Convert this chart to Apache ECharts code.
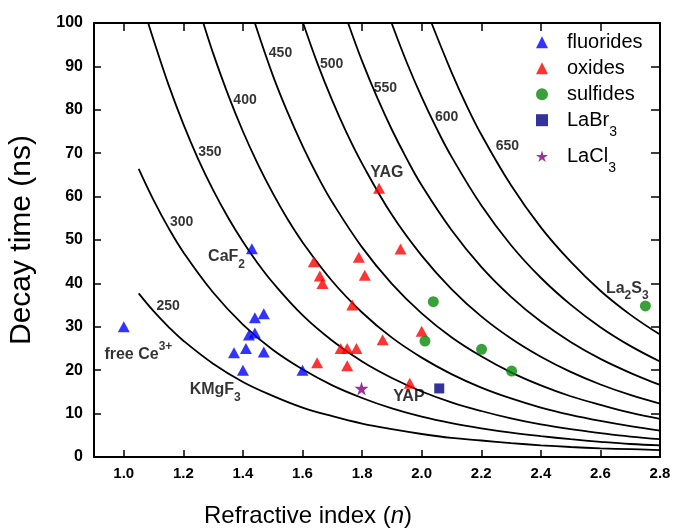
<!DOCTYPE html>
<html><head><meta charset="utf-8">
<script src="https://cdn.jsdelivr.net/npm/echarts/dist/echarts.min.js"></script>
<style>html,body{margin:0;padding:0;background:#fff}#c{width:675px;height:529px}</style>
</head><body><div id="c"></div>
<script>
// ---- data ----
const wavelengths = ['250','300','350','400','450','500','550','600','650'];
const curve250 = [[1.05,37.7],[1.1,33.6],[1.15,30.0],[1.2,26.8],[1.3,21.5],[1.4,17.3],[1.5,14.1],[1.6,11.4],[1.7,9.4],[1.8,7.7],[1.9,6.4],[2.0,5.3],[2.1,4.4],[2.2,3.8],[2.3,3.2],[2.4,2.7],[2.5,2.3],[2.6,2.0],[2.7,1.8],[2.8,1.6]];
const curve300 = [[1.05,66.4],[1.1,59.2],[1.15,52.8],[1.2,47.2],[1.3,37.9],[1.4,30.5],[1.5,24.7],[1.6,20.2],[1.7,16.5],[1.8,13.6],[1.9,11.2],[2.0,9.3],[2.1,7.8],[2.2,6.6],[2.3,5.6],[2.4,4.8],[2.5,4.1],[2.6,3.5],[2.7,3.0],[2.8,2.7]];
const curve350 = [[1.082,100],[1.1,96.1],[1.15,85.8],[1.2,76.7],[1.25,68.6],[1.3,61.5],[1.35,55.2],[1.4,49.6],[1.45,44.6],[1.5,40.2],[1.6,32.7],[1.7,26.8],[1.8,22.0],[1.9,18.2],[2.0,15.1],[2.1,12.6],[2.2,10.6],[2.3,8.9],[2.4,7.5],[2.5,6.4],[2.6,5.5],[2.7,4.7],[2.8,4.1]];
const curve400 = [[1.267,100],[1.3,93.0],[1.35,83.5],[1.4,75.0],[1.45,67.5],[1.5,60.8],[1.55,54.8],[1.6,49.5],[1.7,40.5],[1.8,33.3],[1.9,27.5],[2.0,22.9],[2.1,19.1],[2.2,16.0],[2.3,13.5],[2.4,11.4],[2.5,9.7],[2.6,8.3],[2.7,7.1],[2.8,6.1]];
const curve450 = [[1.44,100],[1.5,88.0],[1.55,79.4],[1.6,71.7],[1.65,64.8],[1.7,58.7],[1.8,48.3],[1.9,39.9],[2.0,33.1],[2.1,27.6],[2.2,23.2],[2.3,19.5],[2.4,16.5],[2.5,14.0],[2.6,12.0],[2.7,10.2],[2.8,8.8]];
const curve500 = [[1.602,100],[1.65,90.7],[1.7,82.1],[1.75,74.4],[1.8,67.6],[1.9,55.8],[2.0,46.4],[2.1,38.7],[2.2,32.4],[2.3,27.3],[2.4,23.1],[2.5,19.6],[2.6,16.7],[2.7,14.3],[2.8,12.3]];
const curve550 = [[1.753,100],[1.8,91.2],[1.85,82.9],[1.9,75.4],[1.95,68.7],[2.0,62.6],[2.1,52.3],[2.2,43.8],[2.3,36.9],[2.4,31.2],[2.5,26.5],[2.6,22.6],[2.7,19.4],[2.8,16.6]];
const curve600 = [[1.899,100],[1.95,90.9],[2.0,82.9],[2.05,75.7],[2.1,69.2],[2.2,58.0],[2.3,48.8],[2.4,41.3],[2.5,35.1],[2.6,29.9],[2.7,25.6],[2.8,22.0]];
const curve650 = [[2.033,100],[2.1,88.7],[2.15,81.1],[2.2,74.3],[2.3,62.6],[2.4,52.9],[2.5,45.0],[2.6,38.3],[2.7,32.8],[2.8,28.2]];
const curves = [curve250,curve300,curve350,curve400,curve450,curve500,curve550,curve600,curve650];

const fluorides = [[1.00,30.0],[1.43,48.0],[1.44,32.1],[1.47,33.0],[1.42,28.1],[1.44,28.6],[1.37,24.0],[1.41,25.0],[1.47,24.2],[1.40,20.0],[1.60,20.0]];
const oxides = [[1.857,61.9],[1.929,47.9],[1.789,46.0],[1.638,45.0],[1.809,41.9],[1.658,41.7],[1.667,40.0],[1.767,35.0],[2.0,29.0],[1.869,27.0],[1.728,25.0],[1.75,25.0],[1.781,25.0],[1.649,21.7],[1.75,21.0],[1.96,17.0]];
const sulfides = [[2.039,35.8],[2.011,26.7],[2.201,24.8],[2.302,19.8],[2.751,34.8]];
const labr3 = [[2.059,15.8]];
const lacl3 = [[1.798,15.8]];

const xTickFormat = 1;      // decimals on x ticks
const curveLabelAnchors = [[1.149,34.8],[1.194,54.2],[1.289,70.3],[1.407,82.3],[1.526,93.0],[1.698,90.6],[1.878,84.9],[2.084,78.3],[2.288,71.7]];
const annotationTexts = ['{m|YAG}','{m|CaF}{sb|2}','{mp|free Ce}{sp|3+}','{m|KMgF}{sb|3}','{m|YAP}','{m|La}{sb|2}{m|S}{sb|3}'];
const annotationAnchors = [[1.883,65.5],[1.345,46.2],[1.049,25.0],[1.307,15.5],[1.957,13.9],[2.690,38.9]];

// ---- chart ----
const FONT = '"Liberation Sans", Arial, sans-serif';
const BLACK = '#000';
const starPath = 'path://M50,0 L61,35 L98,35 L68,57 L79,91 L50,70 L21,91 L32,57 L2,35 L39,35 Z';

const curveSeries = curves.map((c, i) => ({
  type: 'line', name: 'c' + wavelengths[i], data: c, smooth: 0.4,
  symbol: 'none', silent: true, z: 1, lineStyle: {color: BLACK, width: 1.8}
}));

const annRich = {
  m: {fontSize: 16, fontWeight: 'bold', lineHeight: 16, verticalAlign: 'top', fontFamily: FONT, color: BLACK},
  sb: {fontSize: 12, fontWeight: 'bold', lineHeight: 12, padding: [10,0,0,0], verticalAlign: 'top', fontFamily: FONT, color: BLACK},
  mp: {fontSize: 16, fontWeight: 'bold', lineHeight: 16, padding: [6,0,0,0], verticalAlign: 'top', fontFamily: FONT, color: BLACK},
  sp: {fontSize: 12, fontWeight: 'bold', lineHeight: 12, verticalAlign: 'top', fontFamily: FONT, color: BLACK}
};

const legendRich = {
  t: {fontSize: 20, lineHeight: 20, padding: [9,0,9,0], verticalAlign: 'middle', fontFamily: FONT, color: BLACK},
  s: {fontSize: 14, lineHeight: 14, padding: [24,0,0,0], verticalAlign: 'middle', fontFamily: FONT, color: BLACK}
};
const legendFmt = name => {
  const m = name.match(/^(.*?)(\d)$/);
  return m ? '{t|' + m[1] + '}{s|' + m[2] + '}' : '{t|' + name + '}';
};
const legendBase = {
  orient: 'vertical', left: 536, padding: 0, itemWidth: 12, itemHeight: 12, itemGap: -12,
  formatter: legendFmt, selectedMode: false,
  textStyle: {color: BLACK, fontFamily: FONT, fontSize: 20, padding: [0,0,0,14], rich: legendRich}
};

const axisLineStyle = {color: BLACK, width: 2};
const tickStyle = {color: BLACK, width: 1.5};

const option = {
  animation: false,
  backgroundColor: '#fff',
  grid: {left: 94, right: 15, top: 23, bottom: 72, containLabel: false, outerBoundsMode: 'none'},
  legend: [
    Object.assign({}, legendBase, {top: 23.2, data: ['fluorides','oxides','sulfides','LaBr3']}),
    Object.assign({}, legendBase, {top: 137.2, data: ['LaCl3']})
  ],
  xAxis: [
    {type: 'value', min: 0.9, max: 2.8, splitNumber: 10, position: 'bottom',
     axisLine: {onZero: false, lineStyle: axisLineStyle},
     axisTick: {inside: true, length: 7, lineStyle: tickStyle},
     axisLabel: {showMinLabel: false, formatter: v => v.toFixed(xTickFormat), color: BLACK, fontSize: 15, fontWeight: 'bold', fontFamily: FONT, margin: 9},
     splitLine: {show: false},
     name: '{r|Refractive index (}{i|n}{r|)}', nameLocation: 'middle', nameGap: 47, nameMoveOverlap: false,
     nameTextStyle: {padding: [0,138,0,0], rich: {
       r: {fontSize: 24, fontFamily: FONT, color: BLACK},
       i: {fontSize: 24, fontFamily: FONT, color: BLACK, fontStyle: 'italic'}}}},
    {type: 'value', min: 0.9, max: 2.8, splitNumber: 10, position: 'top',
     axisLine: {onZero: false, lineStyle: axisLineStyle},
     axisTick: {inside: true, length: 8, lineStyle: tickStyle},
     axisLabel: {show: false}, splitLine: {show: false}}
  ],
  yAxis: [
    {type: 'value', min: 0, max: 100, interval: 10, position: 'left',
     axisLine: {show: true, onZero: false, lineStyle: axisLineStyle},
     axisTick: {show: true, inside: true, length: 7, lineStyle: tickStyle},
     axisLabel: {color: BLACK, fontSize: 16, fontWeight: 'bold', fontFamily: FONT, margin: 11},
     splitLine: {show: false},
     name: 'Decay time (ns)', nameLocation: 'middle', nameGap: 57, nameMoveOverlap: false,
     nameTextStyle: {fontSize: 30, fontFamily: FONT, color: BLACK}},
    {type: 'value', min: 0, max: 100, interval: 10, position: 'right',
     axisLine: {show: true, onZero: false, lineStyle: axisLineStyle},
     axisTick: {show: true, inside: true, length: 9, lineStyle: tickStyle},
     axisLabel: {show: false}, splitLine: {show: false}}
  ],
  series: [
    ...curveSeries,
    {type: 'scatter', name: 'curveLabels', silent: true, symbolSize: 1, z: 3,
     itemStyle: {color: 'rgba(0,0,0,0)'},
     data: curveLabelAnchors.map((p, i) => ({value: p, name: wavelengths[i]})),
     label: {show: true, position: 'inside', formatter: p => p.name, color: BLACK, fontSize: 14, fontWeight: 'bold', fontFamily: FONT}},
    {type: 'scatter', name: 'annotations', silent: true, symbolSize: 1, z: 3,
     itemStyle: {color: 'rgba(0,0,0,0)'},
     data: annotationAnchors.map((p, i) => ({value: p, name: annotationTexts[i]})),
     label: {show: true, position: 'inside', formatter: p => p.name, rich: annRich}},
    {type: 'scatter', name: 'fluorides', data: fluorides, symbol: 'triangle', symbolSize: [12,11], z: 5, itemStyle: {color: '#0000ff'}},
    {type: 'scatter', name: 'oxides', data: oxides, symbol: 'triangle', symbolSize: [12,11], z: 5, itemStyle: {color: '#ff0000'}},
    {type: 'scatter', name: 'sulfides', data: sulfides, symbol: 'circle', symbolSize: 11, z: 5, itemStyle: {color: '#078a07'}},
    {type: 'scatter', name: 'LaBr3', data: labr3, symbol: 'rect', symbolSize: 10, z: 5, itemStyle: {color: '#000080'}},
    {type: 'scatter', name: 'LaCl3', data: lacl3, symbol: starPath, symbolSize: 14, z: 5, itemStyle: {color: '#800080'}}
  ]
};
const chart = echarts.init(document.getElementById('c'), null, {renderer: 'canvas'});
chart.setOption(option);
</script></body></html>
